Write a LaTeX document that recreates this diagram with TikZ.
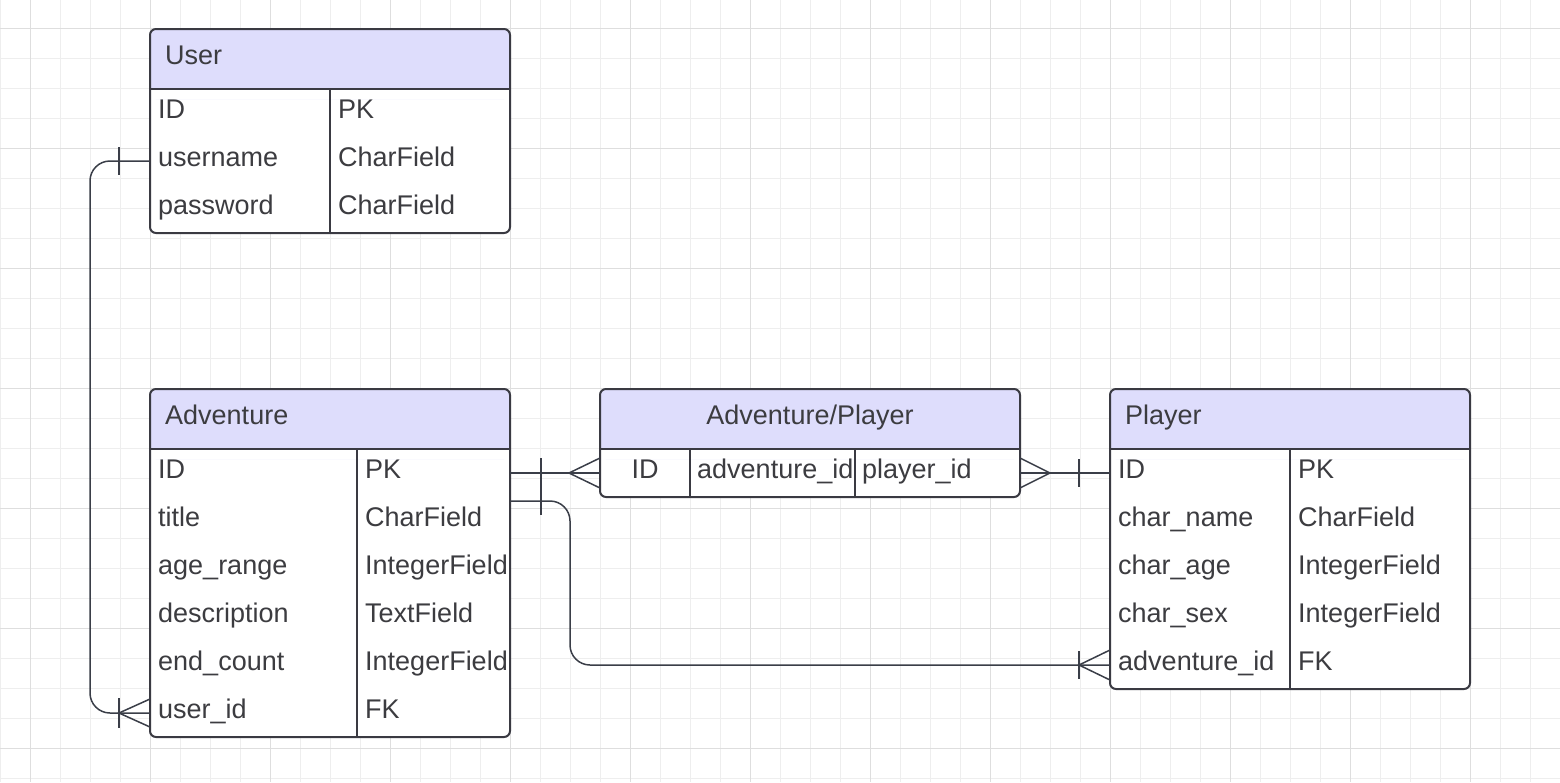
\documentclass[tikz,border=0pt]{standalone}
\usepackage{fontspec}
\setmainfont{Liberation Sans}
\usetikzlibrary{calc}
\definecolor{headfill}{RGB}{222,221,252}
\definecolor{bordercol}{RGB}{58,58,66}
\definecolor{conncol}{RGB}{58,62,72}
\definecolor{textcol}{RGB}{60,60,64}
\definecolor{minorgrid}{RGB}{238,238,238}
\definecolor{majorgrid}{RGB}{222,222,222}
\newcommand\erbox[5]{%
  \fill[white, rounded corners=6pt] (#2,#3) rectangle (#4,#5);
  \fill[headfill, rounded corners=6pt] (#2,#3) rectangle (#4,#3+70);
  \fill[white] (#2,#3+60) rectangle (#4,#3+70);
  \node[tbl, minimum width=#4pt-#2pt, minimum height=#5pt-#3pt, anchor=north west] (#1) at (#2,#3) {};
  \draw[tblline] (#2,#3+60) -- (#4,#3+60);
}
\begin{document}
\begin{tikzpicture}[x=1pt,y=-1pt,
  tbl/.style={draw=bordercol, line width=2pt, rounded corners=6pt, inner sep=0pt, outer sep=0pt},
  tblline/.style={draw=bordercol, line width=2pt},
  txt/.style={inner sep=0pt, anchor=base west, text=textcol, font=\fontsize{27}{32}\selectfont},
  ctxt/.style={txt, anchor=base},
  conn/.style={draw=conncol, line width=1.5pt},
  minor/.style={draw=minorgrid, line width=1pt},
  major/.style={draw=majorgrid, line width=1pt}]
\useasboundingbox (0,0) rectangle (1560,782);
\fill[white] (0,0) rectangle (1560,782);
% grid
\foreach \x in {0,30,...,1560} \draw[minor] (\x,0) -- (\x,782);
\foreach \y in {28,58,...,778} \draw[minor] (0,\y) -- (1560,\y);
\foreach \x in {30,150,...,1470} \draw[major] (\x,0) -- (\x,782);
\foreach \y in {28,148,...,748} \draw[major] (0,\y) -- (1560,\y);

% User
\erbox{user}{150}{29}{510}{233}
\draw[tblline] (330,89) -- (330,233);
\node[txt] (userH) at (165,64) {User};
\node[txt] (u1a) at (158,118) {ID};
\node[txt] (u1b) at (338,118) {PK};
\node[txt] (u2a) at (158,166) {username};
\node[txt] (u2b) at (338,166) {CharField};
\node[txt] (u3a) at (158,214) {password};
\node[txt] (u3b) at (338,214) {CharField};

% Adventure
\erbox{adv}{150}{389}{510}{737}
\draw[tblline] (357,449) -- (357,737);
\node[txt] (advH) at (165,424) {Adventure};
\node[txt] (a1a) at (158,478) {ID};
\node[txt] (a1b) at (365,478) {PK};
\node[txt] (a2a) at (158,526) {title};
\node[txt] (a2b) at (365,526) {CharField};
\node[txt] (a3a) at (158,574) {age\_range};
\node[txt] (a3b) at (365,574) {IntegerField};
\node[txt] (a4a) at (158,622) {description};
\node[txt] (a4b) at (365,622) {TextField};
\node[txt] (a5a) at (158,670) {end\_count};
\node[txt] (a5b) at (365,670) {IntegerField};
\node[txt] (a6a) at (158,718) {user\_id};
\node[txt] (a6b) at (365,718) {FK};

% Adventure/Player
\erbox{ap}{600}{389}{1020}{497}
\draw[tblline] (690,449) -- (690,497);
\draw[tblline] (855,449) -- (855,497);
\node[ctxt] (apH) at (810,424) {Adventure/Player};
\node[ctxt] (ap1) at (645,478) {ID};
\node[txt] (ap2) at (697,478) {adventure\_id};
\node[txt] (ap3) at (862,478) {player\_id};

% Player
\erbox{pl}{1110}{389}{1470}{689}
\draw[tblline] (1290,449) -- (1290,689);
\node[txt] (plH) at (1125,424) {Player};
\node[txt] (p1a) at (1118,478) {ID};
\node[txt] (p1b) at (1298,478) {PK};
\node[txt] (p2a) at (1118,526) {char\_name};
\node[txt] (p2b) at (1298,526) {CharField};
\node[txt] (p3a) at (1118,574) {char\_age};
\node[txt] (p3b) at (1298,574) {IntegerField};
\node[txt] (p4a) at (1118,622) {char\_sex};
\node[txt] (p4b) at (1298,622) {IntegerField};
\node[txt] (p5a) at (1118,670) {adventure\_id};
\node[txt] (p5b) at (1298,670) {FK};

% connection points
\coordinate (userL) at (150,161);
\coordinate (advL) at (150,713);
\coordinate (advID) at (510,473);
\coordinate (advT) at (510,501);
\coordinate (apL) at (600,473);
\coordinate (apR) at (1020,473);
\coordinate (plID) at (1110,473);
\coordinate (plA) at (1110,665);

% User -> Adventure
\draw[conn, rounded corners=20pt] (userL) -- ++(-60,0) |- (advL);
\draw[conn] ($(userL)+(-31,-14)$) -- ($(userL)+(-31,14)$);
\draw[conn] ($(advL)+(0,-14)$) -- ($(advL)+(-31,0)$) -- ($(advL)+(0,14)$);
\draw[conn] ($(advL)+(-31,-15)$) -- ($(advL)+(-31,15)$);

% Adventure -> Adventure/Player
\draw[conn] (advID) -- (apL);
\draw[conn] ($(advID)+(31,-15)$) -- ($(advID)+(31,15)$);
\draw[conn] ($(apL)+(0,-15)$) -- ($(apL)+(-31,0)$) -- ($(apL)+(0,15)$);

% Adventure -> Player
\draw[conn, rounded corners=20pt] (advT) -- ++(60,0) |- (plA);
\draw[conn] ($(advT)+(31,-14)$) -- ($(advT)+(31,14)$);
\draw[conn] ($(plA)+(0,-15)$) -- ($(plA)+(-31,0)$) -- ($(plA)+(0,15)$);
\draw[conn] ($(plA)+(-31,-14)$) -- ($(plA)+(-31,14)$);

% Adventure/Player -> Player
\draw[conn] (apR) -- (plID);
\draw[conn] ($(apR)+(0,-15)$) -- ($(apR)+(30,0)$) -- ($(apR)+(0,15)$);
\draw[conn] ($(plID)+(-31,-14)$) -- ($(plID)+(-31,14)$);
\end{tikzpicture}
\end{document}
